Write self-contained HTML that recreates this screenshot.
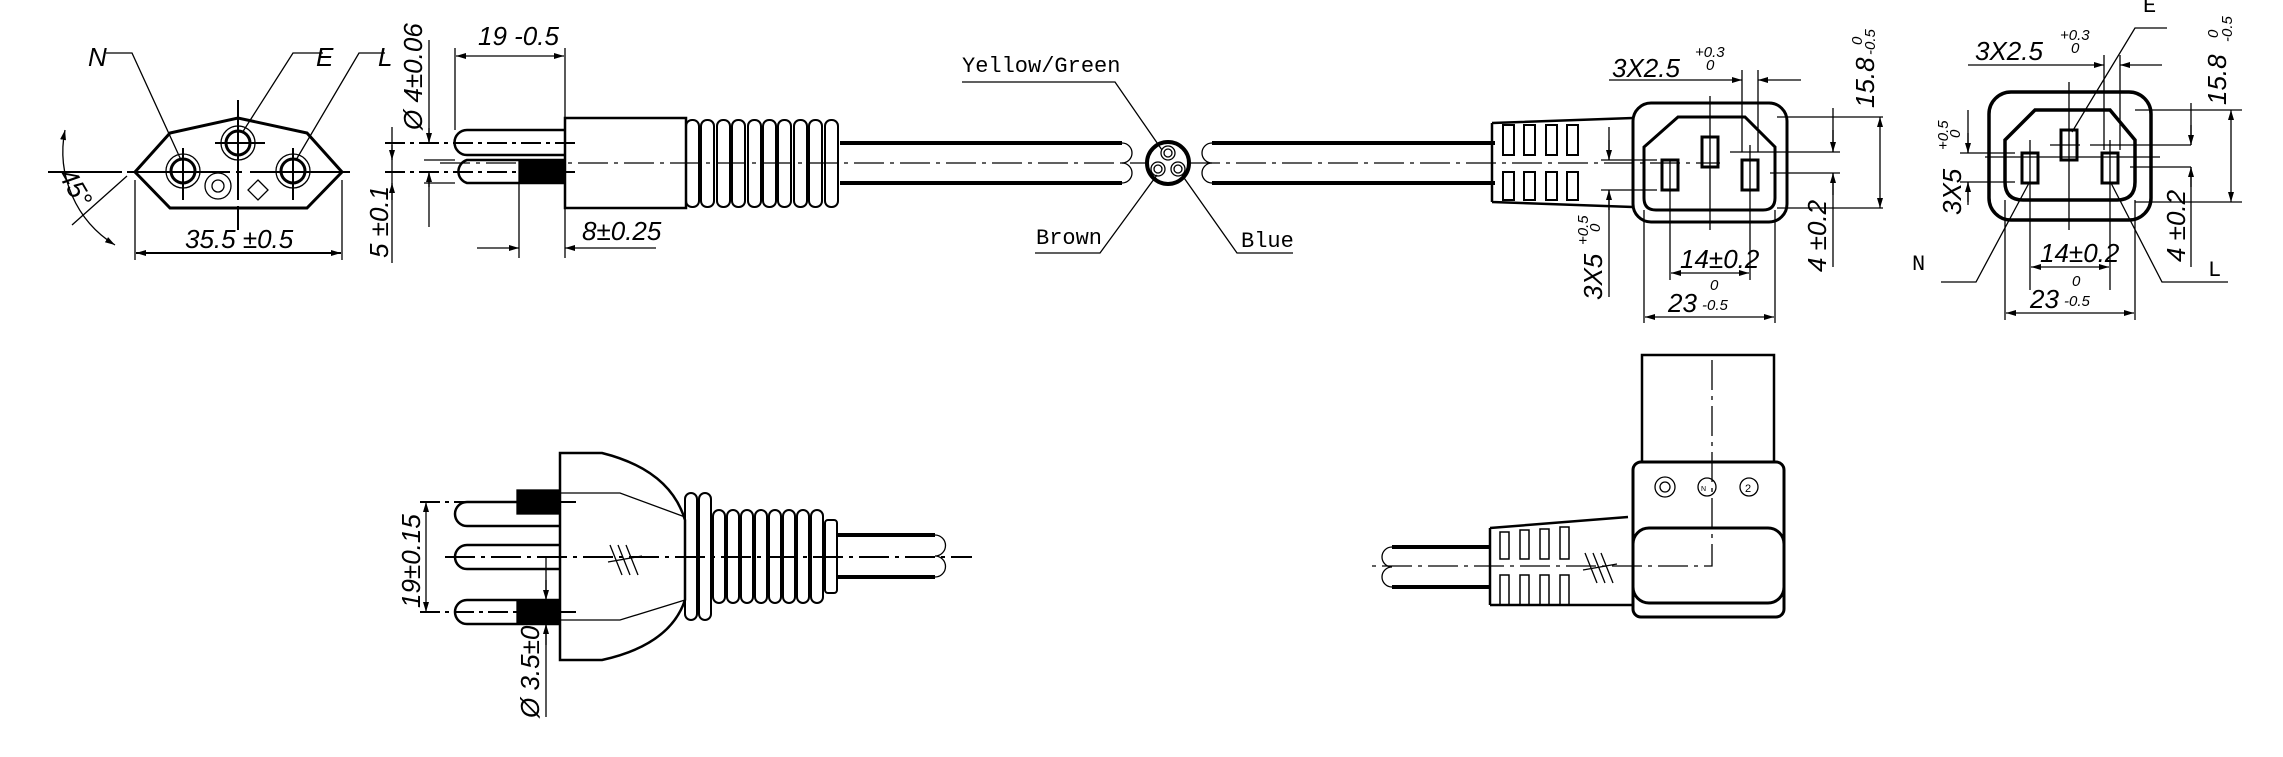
<!DOCTYPE html>
<html><head><meta charset="utf-8"><style>
html,body{margin:0;padding:0;background:#fff}
svg{display:block}
text{font-family:"Liberation Sans Narrow","Liberation Sans",sans-serif;fill:#000;stroke:none}
.t{font-size:26px;font-style:italic}
.s{font-size:15px;font-style:italic}
.m{font-family:"Liberation Mono",monospace;font-size:22px}
</style></head><body>
<svg width="2283" height="757" viewBox="0 0 2283 757" xmlns="http://www.w3.org/2000/svg" fill="none" stroke="#000">
<defs>
<marker id="a" viewBox="0 0 10 10" refX="10" refY="5" markerWidth="10" markerHeight="10" orient="auto-start-reverse" markerUnits="userSpaceOnUse"><path d="M0,2L10,5L0,8z" fill="#000" stroke="none"/></marker>
</defs>
<g stroke-width="1.3">
<!-- FRONT PLUG FACE -->
<path d="M135,172L170,133L238,118L307,133L342,172L307,208L170,208Z" stroke-width="3"/>
<circle cx="183" cy="171" r="17"/><circle cx="183" cy="171" r="12" stroke-width="3"/>
<circle cx="238" cy="143" r="17"/><circle cx="238" cy="143" r="12" stroke-width="3"/>
<circle cx="293" cy="171" r="17"/><circle cx="293" cy="171" r="12" stroke-width="3"/>
<circle cx="218" cy="186" r="13"/><circle cx="218" cy="186" r="6"/>
<path d="M258,180L268,190L258,200L248,190Z"/>
<path d="M48,172H122M127,172H230M236,172H242M250,172H350" stroke-width="2"/>
<path d="M238,100V200M238,206V230M183,148V200M293,148V200M215,143H265" stroke-width="2"/>
<path d="M65,130A110,110 0 0 0 115,245" marker-start="url(#a)" marker-end="url(#a)"/>
<path d="M127,176L72,225"/>
<text class="t" transform="translate(58,175) rotate(60)">45°</text>
<path d="M135,180V260M342,180V260"/>
<path d="M136,253H341" marker-start="url(#a)" marker-end="url(#a)" stroke-width="2"/>
<text class="t" x="185" y="248">35.5 ±0.5</text>
<text class="t" x="88" y="66">N</text><path d="M106,53H132L181,160"/>
<text class="t" x="316" y="66">E</text><path d="M323,53H293L242,133"/>
<text class="t" x="378" y="66">L</text><path d="M385,53H359L296,160"/>

<!-- SIDE PLUG -->
<path d="M565,130H467A12,12 0 0 0 467,155H565" stroke-width="2.5"/>
<path d="M565,160H467A12,12 0 0 0 467,183H565" stroke-width="2.5"/>
<rect x="519" y="160" width="46" height="23" fill="#000"/>
<rect x="565" y="118" width="121" height="90" stroke-width="2.5"/>
<g stroke-width="2">
<rect x="686" y="120" width="13" height="87" rx="6"/><rect x="701" y="120" width="13" height="87" rx="6"/><rect x="717" y="120" width="13" height="87" rx="6"/><rect x="732" y="120" width="13" height="87" rx="6"/><rect x="748" y="120" width="13" height="87" rx="6"/><rect x="763" y="120" width="13" height="87" rx="6"/><rect x="778" y="120" width="13" height="87" rx="6"/><rect x="794" y="120" width="13" height="87" rx="6"/><rect x="809" y="120" width="13" height="87" rx="6"/><rect x="825" y="120" width="13" height="87" rx="6"/>
</g>
<path d="M840,143H1122M840,183H1122" stroke-width="4"/>
<path d="M1122,143A10,10 0 0 1 1122,163A10,10 0 0 1 1122,183"/>
<path d="M1212,143A10,10 0 0 0 1212,163A10,10 0 0 0 1212,183"/>
<path d="M1212,143H1495M1212,183H1495" stroke-width="4"/>
<path d="M440,163H1146M1190,163H1720" stroke-dasharray="30,6,4,6"/>
<path d="M385,143H575M385,172H575" stroke-dasharray="20,5,4,5" stroke-width="2"/>
<path d="M455,130V48M565,118V48"/>
<path d="M456,56H564" marker-start="url(#a)" marker-end="url(#a)"/>
<text class="t" x="478" y="45">19 -0.5</text>
<path d="M429,40V143M429,172V227" />
<path d="M429,128V143" marker-end="url(#a)"/><path d="M429,187V172" marker-end="url(#a)"/>
<text class="t" transform="translate(422,130) rotate(-90)">Ø 4±0.06</text>
<path d="M424,160H455M424,183H455"/>
<path d="M392,127V263"/><path d="M392,145V160" marker-end="url(#a)"/><path d="M392,200V183" marker-end="url(#a)"/>
<text class="t" transform="translate(388,258) rotate(-90)">5 ±0.1</text>
<path d="M519,183V258M565,208V258"/>
<path d="M477,248H519" marker-end="url(#a)"/><path d="M656,248H565" marker-end="url(#a)"/>
<text class="t" x="582" y="240">8±0.25</text>

<!-- CABLE SECTION -->
<circle cx="1168" cy="163" r="21" stroke-width="4"/>
<circle cx="1168" cy="153" r="7"/><circle cx="1168" cy="153" r="4"/>
<circle cx="1158" cy="169" r="7"/><circle cx="1158" cy="169" r="4"/>
<circle cx="1178" cy="169" r="7"/><circle cx="1178" cy="169" r="4"/>
<text class="m" x="962" y="72">Yellow/Green</text><path d="M962,82H1115L1162,150"/>
<text class="m" x="1036" y="244">Brown</text><path d="M1035,253H1100L1157,175"/>
<text class="m" x="1241" y="247">Blue</text><path d="M1293,253H1237L1182,175"/>

<!-- CONNECTOR SIDE -->
<path d="M1490,143H1495M1490,183H1495" stroke-width="4"/>
<path d="M1492,123L1633,118M1492,202L1633,207M1492,123V202" stroke-width="2.5"/>
<g stroke-width="2">
<rect x="1503" y="125" width="11" height="30"/><rect x="1524" y="125" width="11" height="30"/><rect x="1546" y="125" width="11" height="30"/><rect x="1567" y="125" width="11" height="30"/>
<rect x="1503" y="172" width="11" height="28"/><rect x="1524" y="172" width="11" height="28"/><rect x="1546" y="172" width="11" height="28"/><rect x="1567" y="172" width="11" height="28"/>
</g>
<rect x="1633" y="103" width="154" height="119" rx="18" stroke-width="3"/>
<path d="M1678,117H1745L1775,147V198Q1775,210 1763,210H1656Q1644,210 1644,198V147Z" stroke-width="3"/>
<rect x="1702" y="137" width="16" height="30" stroke-width="3"/>
<rect x="1662" y="160" width="16" height="30" stroke-width="3"/>
<rect x="1742" y="160" width="16" height="30" stroke-width="3"/>
<path d="M1710,96V230M1670,160V280M1750,145V280M1775,210V323M1644,210V323"/>
<path d="M1601,160H1657M1601,190H1657M1730,152H1840M1770,173H1840M1777,117H1883M1777,208H1883"/>
<path d="M1609,80H1742" marker-end="url(#a)"/><path d="M1801,80H1758" marker-end="url(#a)"/><path d="M1742,70V152M1758,70V152"/>
<text class="t" x="1612" y="77">3X2.5</text><text class="s" x="1695" y="57">+0.3</text><text class="s" x="1706" y="70">0</text>
<path d="M1880,117V208" marker-start="url(#a)" marker-end="url(#a)"/>
<text class="t" transform="translate(1874,108) rotate(-90)">15.8</text>
<text class="s" transform="translate(1862,45) rotate(-90)">0</text><text class="s" transform="translate(1875,55) rotate(-90)">-0.5</text>
<path d="M1833,108V152M1833,173V267"/><path d="M1833,130V152" marker-end="url(#a)"/><path d="M1833,195V173" marker-end="url(#a)"/>
<text class="t" transform="translate(1826,272) rotate(-90)">4 ±0.2</text>
<path d="M1609,127V160M1609,190V297"/><path d="M1609,140V160" marker-end="url(#a)"/><path d="M1609,210V190" marker-end="url(#a)"/>
<text class="t" transform="translate(1602,300) rotate(-90)">3X5</text>
<text class="s" transform="translate(1588,245) rotate(-90)">+0.5</text><text class="s" transform="translate(1600,232) rotate(-90)">0</text>
<path d="M1671,273H1749" marker-start="url(#a)" marker-end="url(#a)"/>
<text class="t" x="1680" y="268">14±0.2</text>
<path d="M1645,317H1774" marker-start="url(#a)" marker-end="url(#a)"/>
<text class="t" x="1668" y="312">23</text><text class="s" x="1710" y="290">0</text><text class="s" x="1702" y="310">-0.5</text>

<!-- FRONT RIGHT VIEW -->
<rect x="1989" y="92" width="162" height="128" rx="22" stroke-width="3.5"/>
<path d="M2035,110H2110L2135,140V182Q2135,200 2117,200H2023Q2005,200 2005,182V140Z" stroke-width="3.5"/>
<rect x="2061" y="130" width="16" height="30" stroke-width="3"/>
<rect x="2022" y="153" width="16" height="30" stroke-width="3"/>
<rect x="2102" y="153" width="16" height="30" stroke-width="3"/>
<path d="M2069,82V230M2030,140V290M2110,140V290M2005,200V320M2135,200V320"/>
<path d="M1960,153H2015M1960,182H2015M1985,157H2160M2050,145H2080M2090,145H2191M2130,167H2191M2135,110H2242M2135,202H2242"/>
<path d="M1968,65H2104" marker-end="url(#a)"/><path d="M2162,65H2120" marker-end="url(#a)"/><path d="M2104,55V150M2120,55V150"/>
<text class="t" x="1975" y="60">3X2.5</text><text class="s" x="2060" y="40">+0.3</text><text class="s" x="2071" y="53">0</text>
<path d="M2231,110V202" marker-start="url(#a)" marker-end="url(#a)"/>
<text class="t" transform="translate(2226,105) rotate(-90)">15.8</text>
<text class="s" transform="translate(2218,38) rotate(-90)">0</text><text class="s" transform="translate(2232,42) rotate(-90)">-0.5</text>
<path d="M2191,103V145M2191,167V267"/><path d="M2191,125V145" marker-end="url(#a)"/><path d="M2191,187V167" marker-end="url(#a)"/>
<text class="t" transform="translate(2185,262) rotate(-90)">4 ±0.2</text>
<path d="M1968,110V153M1968,182V205"/><path d="M1968,133V153" marker-end="url(#a)"/><path d="M1968,202V182" marker-end="url(#a)"/>
<text class="t" transform="translate(1961,215) rotate(-90)">3X5</text>
<text class="s" transform="translate(1948,150) rotate(-90)">+0.5</text><text class="s" transform="translate(1960,138) rotate(-90)">0</text>
<path d="M2031,267H2109" marker-start="url(#a)" marker-end="url(#a)"/>
<text class="t" x="2040" y="262">14±0.2</text>
<path d="M2006,313H2134" marker-start="url(#a)" marker-end="url(#a)"/>
<text class="t" x="2030" y="308">23</text><text class="s" x="2072" y="286">0</text><text class="s" x="2064" y="306">-0.5</text>
<text class="m" x="2143" y="12">E</text><path d="M2167,28H2135L2072,132"/>
<text class="m" x="1912" y="270">N</text><path d="M1941,282H1976L2029,183"/>
<text class="m" x="2208" y="276">L</text><path d="M2228,282H2162L2111,183"/>

<!-- BOTTOM PLUG -->
<path d="M560,502H467A12,12 0 0 0 467,526H560" stroke-width="2.5"/>
<path d="M560,545H467A12,12 0 0 0 467,569H560" stroke-width="2.5"/>
<path d="M560,600H467A12,12 0 0 0 467,624H560" stroke-width="2.5"/>
<rect x="517" y="490" width="43" height="24" fill="#000"/>
<rect x="517" y="600" width="43" height="24" fill="#000"/>
<path d="M560,453H602Q670,470 685,520V600Q670,645 602,660H560Z" stroke-width="2.5"/>
<path d="M560,493H620L685,517M560,620H620L685,600"/>
<g stroke-width="2">
<rect x="685" y="493" width="12" height="127" rx="6"/><rect x="699" y="493" width="12" height="127" rx="6"/>
<rect x="713" y="510" width="12" height="93" rx="6"/><rect x="727" y="510" width="12" height="93" rx="6"/><rect x="741" y="510" width="12" height="93" rx="6"/><rect x="755" y="510" width="12" height="93" rx="6"/><rect x="769" y="510" width="12" height="93" rx="6"/><rect x="783" y="510" width="12" height="93" rx="6"/><rect x="797" y="510" width="12" height="93" rx="6"/><rect x="811" y="510" width="12" height="93" rx="6"/><rect x="825" y="520" width="12" height="73" rx="3"/>
</g>
<path d="M838,535H935M838,577H935" stroke-width="4"/>
<path d="M935,535A10,10 0 0 1 935,556A10,10 0 0 1 935,577"/>
<path d="M445,557H972" stroke-dasharray="30,6,4,6" stroke-width="2"/>
<path d="M420,502H580M420,612H580" stroke-dasharray="20,5,4,5" stroke-width="2"/>
<path d="M610,545L622,575M618,545L630,575M626,545L638,575M608,562L642,556" />
<path d="M426,502V612" marker-start="url(#a)" marker-end="url(#a)"/>
<text class="t" transform="translate(420,608) rotate(-90)">19±0.15</text>
<path d="M546,557V600M546,624V717"/><path d="M546,580V600" marker-end="url(#a)"/><path d="M546,645V624" marker-end="url(#a)"/>
<text class="t" transform="translate(539,718) rotate(-90)">Ø 3.5±0.1</text>

<!-- BOTTOM RIGHT CONNECTOR -->
<rect x="1642" y="355" width="132" height="107" stroke-width="2.5"/>
<rect x="1633" y="462" width="151" height="155" rx="8" stroke-width="3"/>
<rect x="1633" y="528" width="151" height="75" rx="16" stroke-width="3"/>
<path d="M1712,360V566H1369" stroke-dasharray="30,6,4,6"/>
<circle cx="1665" cy="487" r="10"/><circle cx="1665" cy="487" r="5"/>
<circle cx="1707" cy="487" r="9"/><text x="1701" y="491" style="font-size:7px">N</text>
<circle cx="1749" cy="487" r="9"/><text x="1745" y="492" style="font-size:11px">2</text>
<path d="M1490,528L1628,517M1490,605H1633M1490,528V605" stroke-width="2.5"/>
<g stroke-width="1.5">
<rect x="1500" y="532" width="9" height="27"/><rect x="1520" y="530" width="9" height="29"/><rect x="1540" y="529" width="9" height="30"/><rect x="1560" y="527" width="9" height="32"/>
<rect x="1500" y="575" width="9" height="30"/><rect x="1520" y="575" width="9" height="30"/><rect x="1540" y="575" width="9" height="30"/><rect x="1560" y="575" width="9" height="30"/>
</g>
<path d="M1392,547H1490M1392,587H1490" stroke-width="4"/>
<path d="M1392,547A10,10 0 0 0 1392,567A10,10 0 0 0 1392,587"/>
<path d="M1585,553L1597,583M1593,553L1605,583M1601,553L1613,583M1583,570L1617,564"/>
</g>
</svg>
</body></html>
